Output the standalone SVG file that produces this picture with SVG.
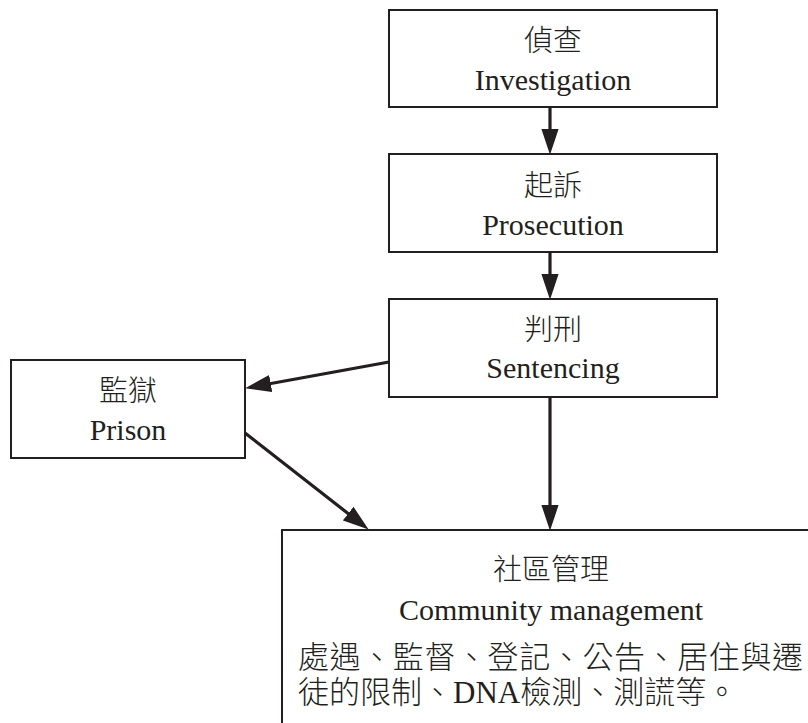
<svg xmlns="http://www.w3.org/2000/svg" width="808" height="723" viewBox="0 0 808 723">
<style>
.box{fill:#fff;stroke:#231f20;stroke-width:2}
.cjk{font-family:"Noto Sans CJK TC","Noto Sans CJK SC",sans-serif;font-size:29px;fill:#231f20;text-anchor:middle;font-weight:300}
.lat{font-family:"Liberation Serif",serif;font-size:30px;fill:#231f20;text-anchor:middle}
.body{font-family:"Liberation Serif","Noto Sans CJK TC","Noto Sans CJK SC",serif;font-size:31px;fill:#231f20;font-weight:300}
.conn{stroke:#231f20;stroke-width:3.2;fill:none;marker-end:url(#ah)}
</style>
<defs>
<marker id="ah" markerUnits="userSpaceOnUse" markerWidth="26" markerHeight="18" viewBox="0 0 24 16" refX="14" refY="8" orient="auto">
<path d="M0,0 L24,8 L0,16 z" fill="#231f20"/>
</marker>
</defs>
<rect width="808" height="723" fill="#fff"/>
<g id="investigation">
<rect class="box" x="389" y="10" width="328" height="97"/>
<text class="cjk" x="553" y="51">偵查</text>
<text class="lat" x="553" y="90">Investigation</text>
</g>
<g id="prosecution">
<rect class="box" x="389" y="154" width="328" height="98"/>
<text class="cjk" x="553" y="196">起訴</text>
<text class="lat" x="553" y="235">Prosecution</text>
</g>
<g id="sentencing">
<rect class="box" x="389" y="299" width="328" height="98"/>
<text class="cjk" x="553" y="340">判刑</text>
<text class="lat" x="553" y="378">Sentencing</text>
</g>
<g id="prison">
<rect class="box" x="11" y="360" width="234" height="98"/>
<text class="cjk" x="128" y="401">監獄</text>
<text class="lat" x="128" y="440">Prison</text>
</g>
<g id="community">
<rect class="box" x="282" y="530" width="600" height="300"/>
<text class="cjk" x="551" y="580">社區管理</text>
<text class="lat" x="551" y="620">Community management</text>
<text class="body" x="298" y="668" textLength="505" lengthAdjust="spacing">處遇、監督、登記、公告、居住與遷</text>
<text class="body" x="298" y="703">徒的限制、DNA檢測、測謊等。</text>
</g>
<g id="connectors">
<line class="conn" x1="550" y1="107" x2="550" y2="144"/>
<line class="conn" x1="550" y1="252" x2="550" y2="289"/>
<line class="conn" x1="550" y1="397" x2="550" y2="520"/>
<line class="conn" x1="389" y1="362" x2="255.8" y2="386.2"/>
<line class="conn" x1="245" y1="433" x2="360.1" y2="522.9"/>
</g>
</svg>
